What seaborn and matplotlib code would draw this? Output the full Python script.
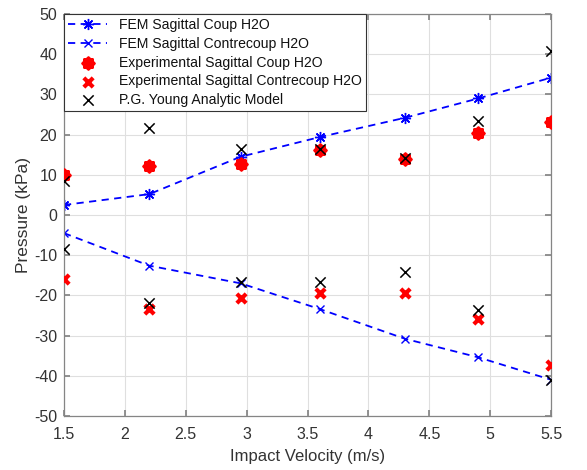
import numpy as np
import pandas as pd
import matplotlib
matplotlib.use("Agg")
import matplotlib.pyplot as plt
import seaborn as sns

velocity = [1.5, 2.2, 2.95, 3.6, 4.3, 4.9, 5.5]
fem_coup = [2.5, 5.2, 14.5, 19.4, 24.2, 29.0, 34.2]
fem_contre = [-4.5, -12.6, -17.0, -23.4, -30.8, -35.4, -41.0]
exp_coup = [10.0, 12.3, 12.8, 16.3, 14.0, 20.5, 23.2]
exp_contre = [-15.8, -23.3, -20.6, -19.3, -19.5, -25.9, -37.4]
young_coup = [8.5, 21.6, 16.4, 16.4, 14.2, 23.5, 40.7]
young_contre = [-8.5, -21.8, -16.6, -16.6, -14.2, -23.6, -41.0]

sns.set_theme(style="white")
plt.rcParams['font.family'] = ['Liberation Sans', 'DejaVu Sans']
plt.rcParams['axes.unicode_minus'] = False

fig = plt.figure(figsize=(5.87, 4.70), dpi=100)
ax = fig.add_axes([0.109, 0.115, 0.830, 0.855])

df = pd.DataFrame({"v": velocity, "fc": fem_coup, "fx": fem_contre,
                   "ec": exp_coup, "ex": exp_contre,
                   "yc": young_coup, "yx": young_contre})

sns.lineplot(data=df, x="v", y="fc", ax=ax, color="#0000ff", linestyle=(0, (4, 3)),
             lw=1.3, marker=(8, 2, 0), markersize=8, markeredgecolor="#0000ff",
             markeredgewidth=1.0, label="FEM Sagittal Coup H2O")
sns.lineplot(data=df, x="v", y="fx", ax=ax, color="#0000ff", linestyle=(0, (4, 3)),
             lw=1.3, marker="x", markersize=6, markeredgecolor="#0000ff",
             markeredgewidth=1.0, label="FEM Sagittal Contrecoup H2O")
sns.scatterplot(data=df, x="v", y="ec", ax=ax, color="#ff0000", marker=(8, 2, 0),
                s=50, linewidth=3.0, edgecolor="#ff0000",
                label="Experimental Sagittal Coup H2O", zorder=3)
sns.scatterplot(data=df, x="v", y="ex", ax=ax, color="#ff0000", marker="x",
                s=45, linewidth=3.0, label="Experimental Sagittal Contrecoup H2O", zorder=3)
sns.scatterplot(data=df, x="v", y="yc", ax=ax, color="black", marker="x",
                s=55, linewidth=1.1, label="P.G. Young Analytic Model", zorder=4)
sns.scatterplot(data=df, x="v", y="yx", ax=ax, color="black", marker="x",
                s=55, linewidth=1.1, zorder=4)

ax.set_xlim(1.5, 5.5)
ax.set_ylim(-50, 50)
ax.set_xticks(np.arange(1.5, 5.51, 0.5))
ax.set_xticklabels(["1.5", "2", "2.5", "3", "3.5", "4", "4.5", "5", "5.5"])
ax.set_yticks(np.arange(-50, 51, 10))
ax.grid(True, color="#dfdfdf", lw=0.8)
ax.set_axisbelow(True)
for s in ax.spines.values():
    s.set_color("#858585")
    s.set_linewidth(0.9)
ax.tick_params(direction="in", length=4, colors="#858585", labelcolor="#333333",
               labelsize=11.5, top=True, right=True, bottom=True, left=True)
ax.tick_params(axis="x", pad=8)
ax.tick_params(axis="y", pad=5)
ax.set_xlabel("Impact Velocity (m/s)", fontsize=12, color="#333333", labelpad=5)
ax.set_ylabel("Pressure (kPa)", fontsize=12.5, color="#333333", labelpad=2)

leg = ax.legend(loc="upper left", fontsize=10.1, frameon=True, fancybox=False,
                edgecolor="#333333", framealpha=1, borderaxespad=0,
                handlelength=2.8, labelspacing=0.33, borderpad=0.3,
                handletextpad=0.8)
leg.get_frame().set_linewidth(0.8)
for t in leg.get_texts():
    t.set_color("#111111")

fig.savefig("out.png", dpi=100)
